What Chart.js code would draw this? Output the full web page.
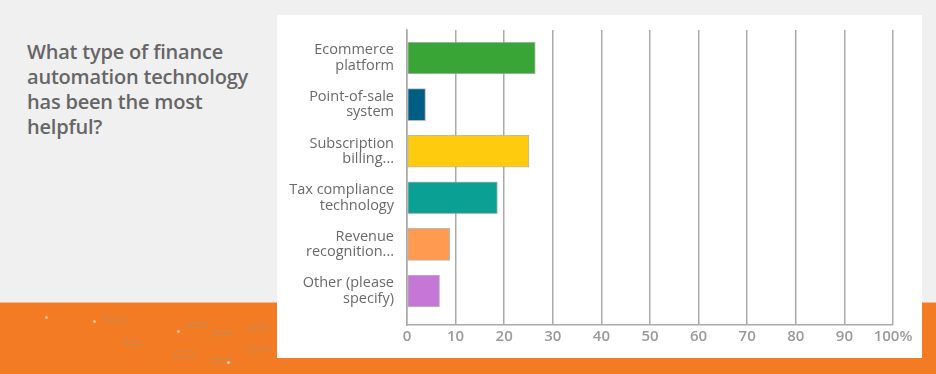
<!DOCTYPE html>
<html>
<head>
<meta charset="utf-8">
<script src="https://cdn.jsdelivr.net/npm/chart.js@4"></script>
<style>
  html, body { margin:0; padding:0; }
  body { width:936px; height:374px; position:relative; overflow:hidden; background:#f0f0f0; font-family: Lato, "Noto Sans", sans-serif; }
  #band { position:absolute; left:0; top:302px; width:936px; height:72px; background:#f27b23; border-top:1px solid #f6b890; box-sizing:border-box; }
  #panel { position:absolute; left:277px; top:15px; width:645px; height:343px; background:#ffffff; }
  #title { position:absolute; left:27px; top:39px; width:232px; color:#666666; font-family:"Open Sans", sans-serif; font-size:20px; font-weight:600; line-height:25px; letter-spacing:-0.2px; }
  .deco { position:absolute; border:1.5px solid rgba(170,150,120,0.55); border-radius:6px; height:4px; }
  .dot { position:absolute; width:3px; height:3px; border-radius:50%; background:rgba(250,210,180,0.8); }
  #wrap { position:absolute; left:0; top:0; width:936px; height:374px; }
</style>
</head>
<body>
<div id="band"></div>
<div class="deco" style="left:103px;top:316px;width:20px;transform:rotate(8deg)"></div>
<div class="deco" style="left:123px;top:340px;width:16px;transform:rotate(6deg)"></div>
<div class="deco" style="left:174px;top:351px;width:20px"></div>
<div class="deco" style="left:185px;top:322px;width:20px"></div>
<div class="deco" style="left:211px;top:330px;width:20px"></div>
<div class="deco" style="left:211px;top:358px;width:20px"></div>
<div class="deco" style="left:247px;top:325px;width:20px;transform:rotate(-8deg)"></div>
<div class="deco" style="left:248px;top:346px;width:20px;transform:rotate(-5deg)"></div>
<div class="dot" style="left:45px;top:316px"></div>
<div class="dot" style="left:93px;top:320px"></div>
<div class="dot" style="left:177px;top:330px"></div>
<div class="dot" style="left:227px;top:361px"></div>
<div id="panel"></div>
<div id="title">What type of finance automation technology has been the most helpful?</div>
<div id="wrap"><canvas id="c" width="936" height="374"></canvas></div>
<script>
const categories = [
  ["Ecommerce", "platform"],
  ["Point-of-sale", "system"],
  ["Subscription", "billing..."],
  ["Tax compliance", "technology"],
  ["Revenue", "recognition..."],
  ["Other (please", "specify)"]
];
const values = [26.4, 3.8, 25.1, 18.6, 8.8, 6.7];
const barColors = ["#3aa537", "#005e85", "#ffcb0e", "#0aa093", "#ff9a50", "#c577d6"];
const tickValues = [0, 10, 20, 30, 40, 50, 60, 70, 80, 90, 100];
const tickLabels = ["0", "10", "20", "30", "40", "50", "60", "70", "80", "90", "100%"];

new Chart(document.getElementById('c'), {
  type: 'bar',
  data: {
    labels: categories,
    datasets: [{
      data: values,
      backgroundColor: barColors,
      borderColor: 'rgba(160,160,160,0.75)',
      borderWidth: 1,
      borderSkipped: false,
      barThickness: 32
    }]
  },
  options: {
    indexAxis: 'y',
    responsive: false,
    animation: false,
    devicePixelRatio: 1,
    layout: { padding: { left: 277, top: 30, right: 43, bottom: 29 } },
    plugins: { legend: { display: false }, tooltip: { enabled: false } },
    scales: {
      x: {
        min: 0, max: 100,
        afterBuildTicks: s => { s.ticks = tickValues.map(v => ({ value: v })); },
        afterFit: s => { s.height = 20; },
        grid: { color: '#aaaaaa', lineWidth: 1.5, drawTicks: false },
        border: { display: true, color: '#aaaaaa', width: 1.5 },
        ticks: {
          padding: 3,
          color: '#9a9a9a',
          font: { family: 'Open Sans', size: 15, weight: '600' },
          callback: (v) => tickLabels[tickValues.indexOf(v)]
        }
      },
      y: {
        afterBuildTicks: s => { s._startValue = -0.6; s._valueRange = 6.33; },
        afterFit: s => { s.width = 130; },
        grid: { display: false, drawTicks: false },
        border: { display: true, color: '#aaaaaa', width: 1.5 },
        ticks: {
          padding: 13,
          color: '#6a6a6a',
          font: { family: 'Open Sans', size: 14.5, lineHeight: 1.05 }
        }
      }
    }
  }
});
</script>
</body>
</html>
